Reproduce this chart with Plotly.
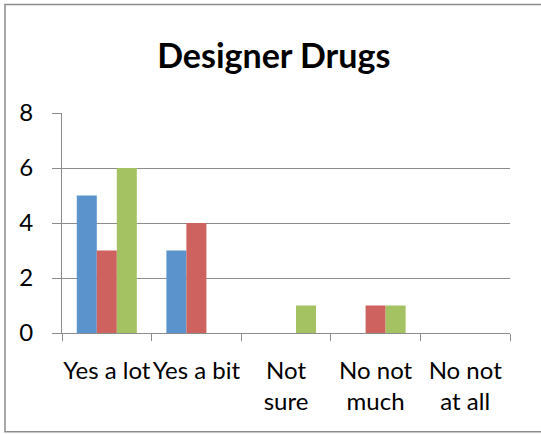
import plotly.graph_objects as go

# data
categories = ["Yes a lot", "Yes a bit", "Not<br>sure", "No not<br>much", "No not<br>at all"]
series_names = ["Series1", "Series2", "Series3"]
blue_vals = [5, 3, 0, 0, 0]
red_vals = [3, 4, 0, 1, 0]
green_vals = [6, 0, 1, 1, 0]
y_ticks = [0, 2, 4, 6, 8]

colors = ["#5B93CC", "#CD625E", "#A5C263"]
grid_col = "#8C8C8C"
font_name = "Lato"

fig = go.Figure()
for name, vals, col in zip(series_names, [blue_vals, red_vals, green_vals], colors):
    fig.add_trace(go.Bar(
        x=categories, y=vals, name=name,
        marker=dict(color=col, line=dict(width=0)),
    ))

fig.update_layout(
    width=541, height=434,
    margin=dict(l=62, r=31, t=113, b=101, autoexpand=False),
    paper_bgcolor="white", plot_bgcolor="white",
    barmode="group", bargap=0.33, bargroupgap=0,
    showlegend=False,
    font=dict(family=font_name, size=24, color="black"),
    title=dict(
        text="<b>Designer Drugs</b>",
        x=0.506, xref="container", xanchor="center",
        y=1 - 56 / 434, yref="container", yanchor="middle",
        font=dict(family=font_name, size=34, color="black"),
    ),
)

fig.update_xaxes(
    showline=True, linecolor=grid_col, linewidth=1,
    ticks="outside", ticklen=7, tickcolor=grid_col, tickwidth=1,
    tickson="boundaries", showgrid=False,
    tickangle=0, automargin=False,
    ticklabelstandoff=16,
)
fig.update_yaxes(
    range=[0, 8], tickvals=y_ticks,
    showline=True, linecolor=grid_col, linewidth=1,
    ticks="outside", ticklen=9, tickcolor=grid_col, tickwidth=1,
    showgrid=True, gridcolor=grid_col, gridwidth=1,
    zeroline=False, automargin=False, ticklabelstandoff=14,
)

# chart border (right edge falls outside the picture)
fig.add_shape(
    type="rect", xref="paper", yref="paper",
    x0=(5 - 62) / 448, x1=(548 - 62) / 448,
    y0=(333.3 - 432.5) / 220.8, y1=(333.3 - 3.5) / 220.8,
    line=dict(color="#8C8C8C", width=1.5), fillcolor="rgba(0,0,0,0)",
    layer="below",
)

# drop the default page margin so the figure sits at the window's corner
fig.write_html("out.html", config={"displayModeBar": False},
               post_script="document.body.style.margin='0';")
